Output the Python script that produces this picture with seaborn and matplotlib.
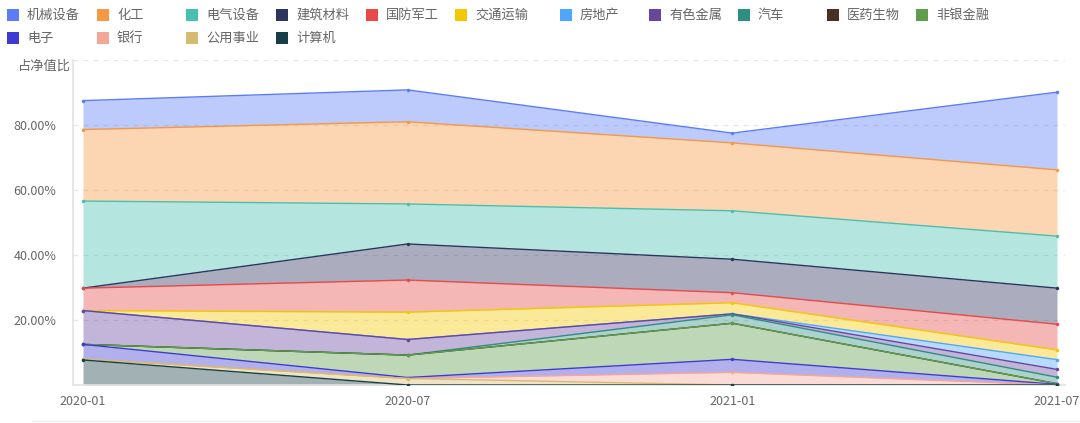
import numpy as np
import pandas as pd
import matplotlib
matplotlib.use("Agg")
import matplotlib.pyplot as plt
from matplotlib.patches import Rectangle
from matplotlib.lines import Line2D
import seaborn as sns

# ---------------- data ----------------
dates = ["2020-01", "2020-07", "2021-01", "2021-07"]
categories = ["机械设备", "化工", "电气设备", "建筑材料", "国防军工", "交通运输", "房地产",
              "有色金属", "汽车", "医药生物", "非银金融", "电子", "银行", "公用事业", "计算机"]
jixie = [8.9, 9.8, 3.0, 23.9]
huagong = [22.0, 25.3, 20.9, 20.4]
dianqi = [26.8, 12.3, 14.9, 16.0]
jianzhu = [0.0, 11.1, 10.3, 11.1]
guofang = [6.9, 9.9, 3.1, 7.9]
jiaotong = [0.0, 8.4, 3.4, 3.0]
fangdichan = [0.0, 0.0, 0.0, 3.0]
youse = [10.4, 4.8, 0.3, 2.4]
qiche = [0.0, 0.0, 2.6, 2.0]
yiyao = [0.0, 0.0, 0.0, 0.0]
feiyin = [0.0, 6.9, 11.1, 0.2]
dianzi = [4.5, 0.3, 4.0, 0.2]
yinhang = [0.0, 0.0, 3.9, 0.0]
gongyong = [0.3, 2.0, 0.0, 0.0]
jisuanji = [7.7, 0.0, 0.0, 0.0]
series_values = [jixie, huagong, dianqi, jianzhu, guofang, jiaotong, fangdichan,
                 youse, qiche, yiyao, feiyin, dianzi, yinhang, gongyong, jisuanji]
y_ticks = [20, 40, 60, 80]

colors = ["#5B7CF9", "#F89842", "#48C0B0", "#2E3460", "#E84A4A", "#F2C800", "#4DA6FF",
          "#6A45A0", "#2E8F80", "#4A2F22", "#5E9E4D", "#3F3BD0", "#F5A797", "#D5BC70", "#173F45"]

sns.set_theme(style="white")
plt.rcParams['font.family'] = ['Noto Sans CJK SC', 'DejaVu Sans']

fig = plt.figure(figsize=(10.8, 4.23), dpi=100)
ax = fig.add_axes([73/1080, 1-385/423, (1065-73)/1080, (385-60)/423])

x = np.arange(len(dates))
# stack bottom = last category
order = list(range(len(categories)))[::-1]
base = np.zeros(len(dates))
tops = {}
bottoms = {}
for i in order:
    v = np.array(series_values[i], dtype=float)
    bottoms[i] = base.copy()
    tops[i] = base + v
    base = tops[i]

for i in order:
    ax.fill_between(x, bottoms[i], tops[i], color=colors[i], alpha=0.4, linewidth=0, zorder=2)

# lines: upper series first so lower ones are drawn on top
rows = []
for i in range(len(categories)):
    for j, d in enumerate(x):
        rows.append({"x": d, "y": tops[i][j], "cat": categories[i]})
df = pd.DataFrame(rows)
for k, i in enumerate(range(len(categories))):
    sub = df[df["cat"] == categories[i]]
    sns.lineplot(data=sub, x="x", y="y", color=colors[i], linewidth=1.0, marker="o",
                 markersize=2.5, markeredgewidth=0, ax=ax, zorder=3 + k * 0.01, legend=False)

ax.set_xlim(-10/324.7, 3 + 8/324.7)
ax.set_ylim(0, 100)
ax.set_yticks(y_ticks)
ax.set_yticklabels([f"{t:.2f}%" for t in y_ticks], color="#666666", fontsize=9)
ax.set_xticks(x)
ax.set_xticklabels(dates, color="#666666", fontsize=9)
ax.set_xlabel("")
ax.set_ylabel("")
for t in [20, 40, 60, 80, 100]:
    ax.axhline(t, color="#E6E6E6", linestyle=(0, (4, 4)), linewidth=0.9, zorder=1)
for s in ["top", "right"]:
    ax.spines[s].set_visible(False)
for s in ["left", "bottom"]:
    ax.spines[s].set_color("#E3E3E3")
    ax.spines[s].set_linewidth(1.2)
ax.tick_params(axis="y", length=0, pad=12)
ax.tick_params(axis="x", length=4, color="#C9D3F5", pad=3, width=0.8)

fig.text(18/1080, 1-66/423, "占净值比", fontsize=9.5, color="#666666", va="center", ha="left")

# legend drawn manually
col_x = [7, 97, 186, 276, 366, 455, 560, 649, 738, 827, 916]
row_y = [15, 38]
for i, cat in enumerate(categories):
    r, c = divmod(i, 11)
    px, py = col_x[c], row_y[r]
    fig.add_artist(Rectangle((px/1080, 1-(py+6)/423), 12/1080, 12/423,
                             transform=fig.transFigure, color=colors[i], linewidth=0))
    fig.text((px+20)/1080, 1-py/423, cat, fontsize=9.5, color="#666666", va="center", ha="left")

fig.add_artist(Line2D([0.03, 1.0], [1-421/423, 1-421/423], transform=fig.transFigure,
                      color="#EEEEEE", linewidth=1))

fig.savefig("out.png", dpi=100)
